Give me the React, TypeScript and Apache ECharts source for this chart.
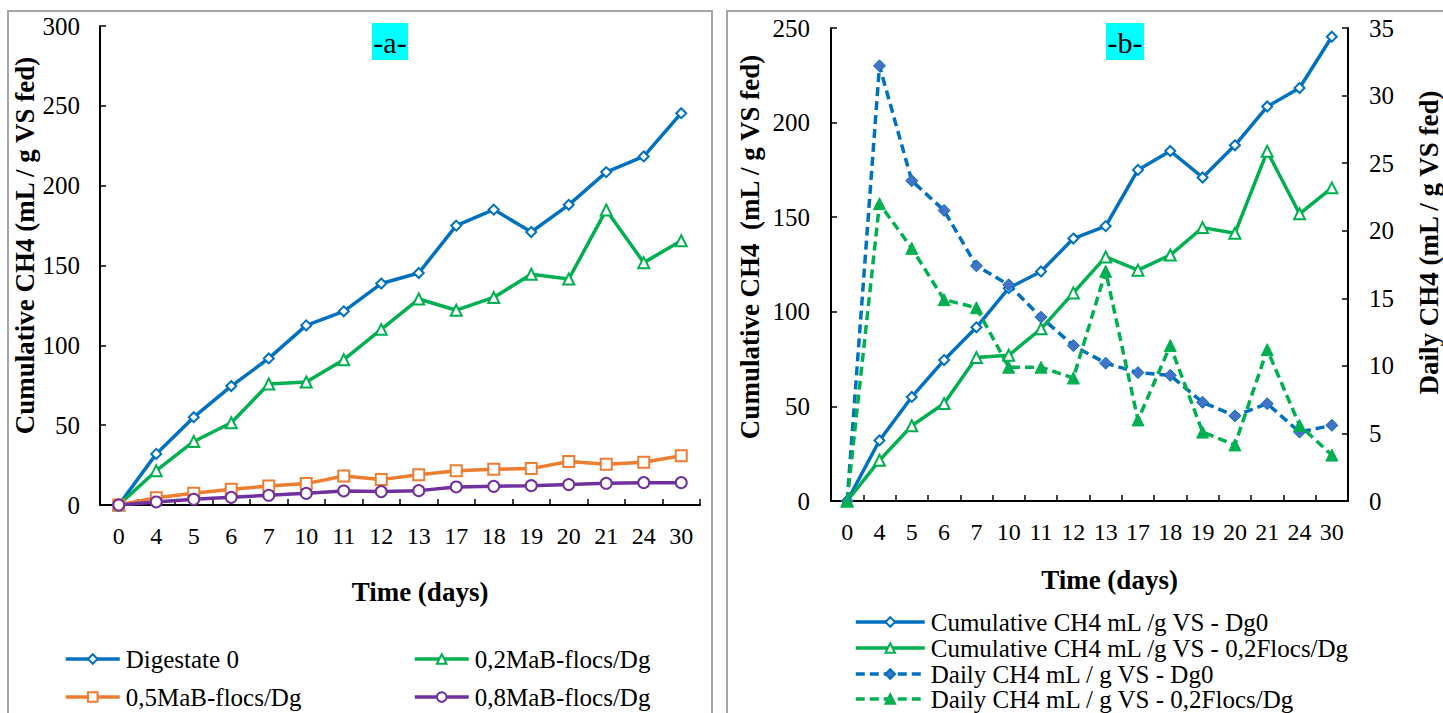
import React, { useEffect, useRef } from "react";
import * as echarts from "echarts";

const days = ["0", "4", "5", "6", "7", "10", "11", "12", "13", "17", "18", "19", "20", "21", "24", "30"];

// Panel a
const digestate0 = [0, 32, 55, 74.5, 91.8, 112.5, 121.3, 138.7, 145.3, 175, 185, 171, 188, 208.5, 218.3, 245.4];
const mab02 = [0, 21.5, 39.8, 51.5, 75.8, 77, 91, 110, 129, 122, 130, 144.5, 141.5, 184.8, 151.8, 165.5];
const mab05 = [0, 4.6, 7.3, 9.8, 11.9, 13.4, 18.2, 15.9, 19.0, 21.5, 22.4, 22.8, 27.2, 25.5, 26.8, 30.8];
const mab08 = [0, 1.9, 3.6, 4.8, 6.1, 7.3, 8.8, 8.4, 9.0, 11.3, 11.7, 12.1, 12.8, 13.6, 14.0, 14.0];

// Panel b
const cumDg0 = [0, 32, 55, 74.5, 91.8, 112.5, 121.3, 138.7, 145.3, 175, 185, 171, 188, 208.5, 218.3, 245.4];
const cumFlocs = [0, 21.5, 39.8, 51.5, 75.8, 77, 91, 110, 129, 122, 130, 144.5, 141.5, 184.8, 151.8, 165.5];
const dailyDg0 = [0, 32.2, 23.7, 21.5, 17.4, 16.0, 13.6, 11.5, 10.2, 9.5, 9.3, 7.3, 6.3, 7.2, 5.1, 5.6];
const dailyFlocs = [0, 22.0, 18.7, 14.9, 14.3, 9.9, 9.9, 9.1, 17.0, 6.0, 11.5, 5.1, 4.15, 11.2, 5.6, 3.4];

const namesA = ["Digestate 0", "0,2MaB-flocs/Dg", "0,5MaB-flocs/Dg", "0,8MaB-flocs/Dg"];
const namesB = [
  "Cumulative CH4 mL /g VS - Dg0",
  "Cumulative CH4 mL /g VS - 0,2Flocs/Dg",
  "Daily CH4 mL / g VS - Dg0",
  "Daily CH4 mL / g VS - 0,2Flocs/Dg",
];

const FONT = "'Liberation Serif', 'Times New Roman', serif";
const BLUE = "#0070C0";
const GREEN = "#00B050";
const ORANGE = "#ED7D31";
const PURPLE = "#7030A0";
const LW = 3.5;

const axisCommon = {
  axisLine: { show: true, lineStyle: { color: "#000", width: 2 } },
  axisTick: { show: true, inside: true, length: 6, lineStyle: { color: "#000", width: 1.5 } },
  splitLine: { show: false },
};

function xAxisFor(gridIndex: number, gap: number) {
  return {
    type: "category",
    gridIndex,
    data: days,
    boundaryGap: true,
    ...axisCommon,
    axisTick: { show: true, inside: true, length: 6, alignWithLabel: false, interval: 0, lineStyle: { color: "#000", width: 1.5 } },
    axisLabel: { interval: 0, color: "#000", fontFamily: FONT, fontSize: 24, margin: 19 },
    name: "Time (days)",
    nameLocation: "middle",
    nameGap: gap,
    nameTextStyle: { color: "#000", fontFamily: FONT, fontSize: 27, fontWeight: "bold", padding: [0, 0, 0, 40] },
  };
}

function legendItem(name: string, left: number, top: number, w: number) {
  return {
    data: [name],
    left,
    top,
    padding: 0,
    orient: "horizontal",
    itemWidth: w,
    itemHeight: 12,
    itemGap: 0,
    selectedMode: false,
    lineStyle: { width: LW },
    textStyle: { color: "#000", fontFamily: FONT, fontSize: 25, lineHeight: 26, padding: [0, 0, 0, 1] },
  };
}

export default function App() {
  const ref = useRef<HTMLDivElement>(null);
  useEffect(() => {
    if (!ref.current) return;
    const chart = echarts.init(ref.current, undefined, { renderer: "svg" });
    const option = {
      animation: false,
      backgroundColor: "#fff",
      grid: [
        { left: 100, top: 26, width: 600, height: 479 },
        { left: 831, top: 28, width: 522, height: 473 },
      ],
      xAxis: [xAxisFor(0, 73), xAxisFor(1, 65)],
      yAxis: [
        {
          type: "value",
          gridIndex: 0,
          min: 0,
          max: 300,
          interval: 50,
          ...axisCommon,
          axisLabel: { color: "#000", fontFamily: FONT, fontSize: 25, margin: 20 },
          name: "Cumulative CH4 (mL / g VS fed)",
          nameLocation: "middle",
          nameGap: 53,
          nameTextStyle: { color: "#000", fontFamily: FONT, fontSize: 27, fontWeight: "bold", padding: [0, 0, 0, 40] },
        },
        {
          type: "value",
          gridIndex: 1,
          min: 0,
          max: 250,
          interval: 50,
          ...axisCommon,
          axisLabel: { color: "#000", fontFamily: FONT, fontSize: 25, margin: 21 },
          name: "Cumulative CH4  (mL / g VS fed)",
          nameLocation: "middle",
          nameGap: 68,
          nameTextStyle: { color: "#000", fontFamily: FONT, fontSize: 27, fontWeight: "bold", padding: [0, 0, 0, 35] },
        },
        {
          type: "value",
          gridIndex: 1,
          position: "right",
          min: 0,
          max: 35,
          interval: 5,
          ...axisCommon,
          axisLabel: { color: "#000", fontFamily: FONT, fontSize: 25, margin: 21 },
          name: "Daily CH4 (mL / g VS fed)",
          nameLocation: "middle",
          nameGap: 67,
          nameTextStyle: { color: "#000", fontFamily: FONT, fontSize: 27, fontWeight: "bold", padding: [0, 0, 0, 44] },
        },
      ],
      legend: [
        legendItem(namesA[0], 64, 646, 54),
        legendItem(namesA[1], 413, 646, 54),
        legendItem(namesA[2], 64, 684, 54),
        legendItem(namesA[3], 413, 684, 54),
        legendItem(namesB[0], 854, 609, 69),
        legendItem(namesB[1], 854, 635, 69),
        legendItem(namesB[2], 854, 661, 69),
        legendItem(namesB[3], 854, 686, 69),
      ],
      series: [
        {
          name: namesA[0], type: "line", xAxisIndex: 0, yAxisIndex: 0, data: digestate0,
          symbol: "emptyDiamond", symbolSize: 10,
          lineStyle: { color: BLUE, width: LW }, itemStyle: { color: BLUE, borderWidth: 1.5 },
        },
        {
          name: namesA[1], type: "line", xAxisIndex: 0, yAxisIndex: 0, data: mab02,
          symbol: "emptyTriangle", symbolSize: 11,
          lineStyle: { color: GREEN, width: LW }, itemStyle: { color: GREEN, borderWidth: 1.5 },
        },
        {
          name: namesA[2], type: "line", xAxisIndex: 0, yAxisIndex: 0, data: mab05,
          symbol: "emptyRect", symbolSize: 11,
          lineStyle: { color: ORANGE, width: LW }, itemStyle: { color: ORANGE, borderWidth: 1.5 },
        },
        {
          name: namesA[3], type: "line", xAxisIndex: 0, yAxisIndex: 0, data: mab08,
          symbol: "emptyCircle", symbolSize: 11,
          lineStyle: { color: PURPLE, width: LW }, itemStyle: { color: PURPLE, borderWidth: 1.5 },
        },
        {
          name: namesB[0], type: "line", xAxisIndex: 1, yAxisIndex: 1, data: cumDg0,
          symbol: "emptyDiamond", symbolSize: 10,
          lineStyle: { color: BLUE, width: LW }, itemStyle: { color: BLUE, borderWidth: 1.5 },
        },
        {
          name: namesB[1], type: "line", xAxisIndex: 1, yAxisIndex: 1, data: cumFlocs,
          symbol: "emptyTriangle", symbolSize: 11,
          lineStyle: { color: GREEN, width: LW }, itemStyle: { color: GREEN, borderWidth: 1.5 },
        },
        {
          name: namesB[2], type: "line", xAxisIndex: 1, yAxisIndex: 2, data: dailyDg0,
          symbol: "diamond", symbolSize: 12,
          lineStyle: { color: BLUE, width: LW, type: [9, 5] },
          itemStyle: { color: "#4472C4", borderColor: BLUE, borderWidth: 1 },
        },
        {
          name: namesB[3], type: "line", xAxisIndex: 1, yAxisIndex: 2, data: dailyFlocs,
          symbol: "triangle", symbolSize: 12,
          lineStyle: { color: GREEN, width: LW, type: [9, 5] },
          itemStyle: { color: GREEN, borderColor: GREEN, borderWidth: 1 },
        },
      ],
      graphic: [
        { type: "rect", silent: true, shape: { x: 8, y: 11, width: 704, height: 740 }, style: { fill: "none", stroke: "#A6A6A6", lineWidth: 2 } },
        { type: "rect", silent: true, shape: { x: 727, y: 11, width: 740, height: 740 }, style: { fill: "none", stroke: "#A6A6A6", lineWidth: 2 } },
        { type: "rect", silent: true, shape: { x: 372, y: 23, width: 36, height: 37 }, style: { fill: "#00FFFF" } },
        { type: "text", silent: true, x: 390, y: 42, style: { text: "-a-", fill: "#000", font: `30px ${FONT}`, textAlign: "center", textVerticalAlign: "middle" } },
        { type: "rect", silent: true, shape: { x: 1106, y: 23, width: 38, height: 37 }, style: { fill: "#00FFFF" } },
        { type: "text", silent: true, x: 1125, y: 42, style: { text: "-b-", fill: "#000", font: `30px ${FONT}`, textAlign: "center", textVerticalAlign: "middle" } },
      ],
    };
    chart.setOption(option as any);
    return () => chart.dispose();
  }, []);
  return <div ref={ref} style={{ position: "absolute", left: 0, top: 0, width: 1443, height: 713 }} />;
}
